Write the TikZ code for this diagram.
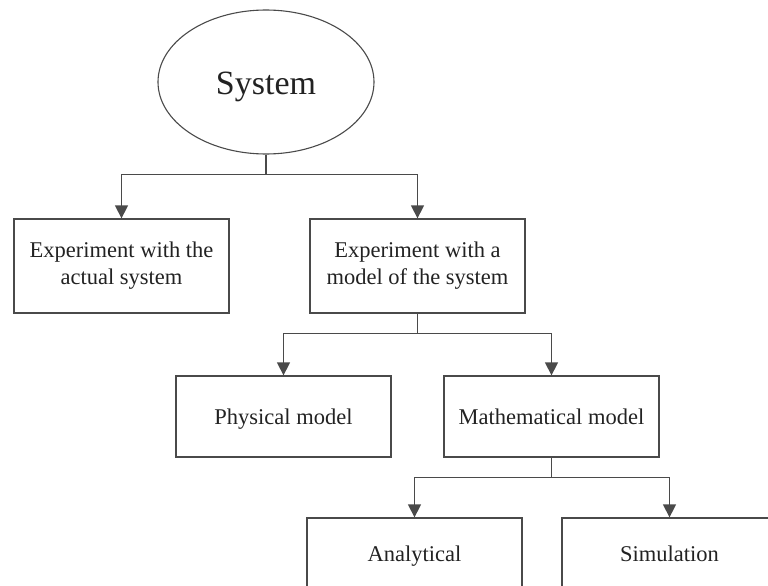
\documentclass[tikz,border=0pt]{standalone}
\usepackage{fontspec}
\setmainfont{Liberation Serif}
\usetikzlibrary{shapes.geometric,arrows.meta}
\definecolor{linegray}{HTML}{4A4A4A}
\definecolor{textgray}{HTML}{222222}
\begin{document}
\begin{tikzpicture}[x=1pt,y=-1pt,
  box/.style={draw=linegray,line width=1.3pt,rectangle,minimum width=215pt,inner sep=0pt,
    align=center,text=textgray,font=\fontsize{22.5}{27}\selectfont},
  oneline/.style={text height=18pt,text depth=2pt},
  oval/.style={draw=linegray,line width=1.1pt,ellipse,minimum width=216pt,minimum height=144pt,
    inner sep=0pt,text=textgray,text height=26pt,text depth=2pt,font=\fontsize{34}{40}\selectfont},
  arr/.style={draw=linegray,line width=1.4pt,-{Triangle[length=13pt,width=13pt]}},
  link/.style={draw=linegray,line width=1.4pt}]
\useasboundingbox (0,0) rectangle (768,586);
\node[oval] (sys) at (266,82) {System};
\node[box,minimum height=94pt] (act) at (121.5,266) {Experiment with the\\actual system};
\node[box,minimum height=94pt] (mod) at (417.5,266) {Experiment with a\\model of the system};
\node[box,oneline,minimum height=81pt] (phy) at (283.5,416.5) {Physical model};
\node[box,oneline,minimum height=81pt] (mat) at (551.5,416.5) {Mathematical model};
\node[box,oneline,minimum height=70pt] (ana) at (414.5,553) {Analytical};
\node[box,oneline,minimum height=70pt] (sim) at (669.5,553) {Simulation};
% branch from the system
\draw[link] (sys.south) -- ++(0,20) coordinate (j1);
\draw[arr] (j1) -| (act.north);
\draw[arr] (j1) -| (mod.north);
% branch from the model experiment
\draw[link] (mod.south) -- ++(0,20) coordinate (j2);
\draw[arr] (j2) -| (phy.north);
\draw[arr] (j2) -| (mat.north);
% branch from the mathematical model
\draw[link] (mat.south) -- ++(0,20) coordinate (j3);
\draw[arr] (j3) -| (ana.north);
\draw[arr] (j3) -| (sim.north);
\end{tikzpicture}
\end{document}
